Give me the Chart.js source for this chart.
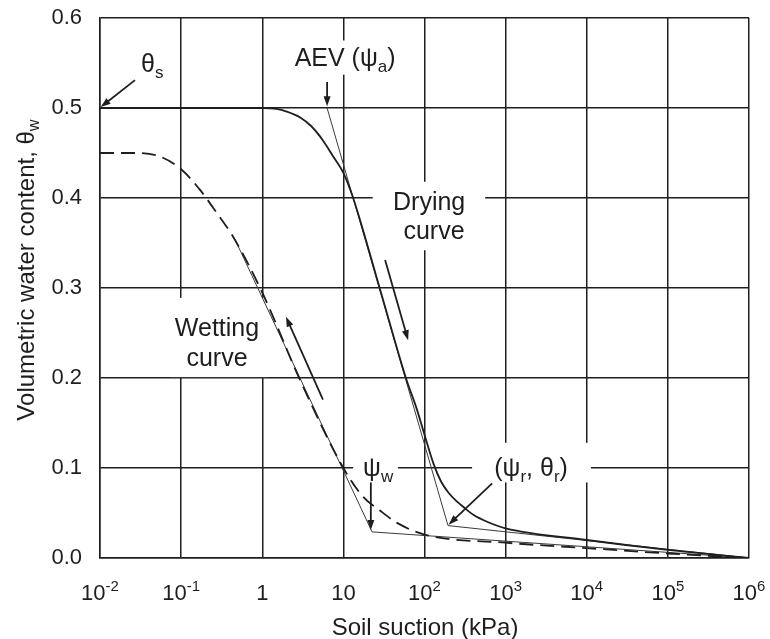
<!DOCTYPE html>
<html>
<head>
<meta charset="utf-8">
<title>Soil-water characteristic curves</title>
<script src="https://cdn.jsdelivr.net/npm/chart.js@4.4.1/dist/chart.umd.min.js"></script>
<style>
  body { margin: 0; background: #fff; }
  canvas { display: block; }
</style>
</head>
<body>
<canvas id="swcc" width="770" height="639"></canvas>
<script>
// soil suction (kPa) and volumetric water content
const dryingSuction = [0.01, 0.1, 1, 1.5, 2, 3, 4, 5.6, 7.5, 10, 13.2, 28, 59, 80, 100, 130, 160, 200, 250, 300, 400, 600, 1000, 10000, 100000, 1000000];
const dryingTheta   = [0.5, 0.5, 0.5, 0.499, 0.496, 0.489, 0.48, 0.464, 0.446, 0.428, 0.4, 0.3, 0.2, 0.166, 0.137, 0.104, 0.085, 0.072, 0.063, 0.057, 0.048, 0.04, 0.033, 0.02, 0.009, 0];

const wettingSuction = [0.01, 0.03, 0.055, 0.1, 0.171, 0.277, 0.437, 1, 2.92, 10, 17.5, 28, 46, 100, 1000, 10000, 100000, 1000000];
const wettingTheta   = [0.45, 0.45, 0.446, 0.432, 0.409, 0.383, 0.357, 0.295, 0.198, 0.1, 0.068, 0.053, 0.039, 0.026, 0.017, 0.011, 0.005, 0];

// construction lines: AEV -> (psi_r, theta_r) -> 1e6 kPa, and wetting tangent -> psi_w -> 1e6 kPa
const dryingTangentSuction = [6.3, 195, 1000000];
const dryingTangentTheta   = [0.5, 0.036, 0];
const wettingTangentSuction = [0.45, 22.6, 1000000];
const wettingTangentTheta   = [0.356, 0.029, 0];

const xTickValues = [0.01, 0.1, 1, 10, 100, 1000, 10000, 100000, 1000000];
const xTickBase   = ['10', '10', '1', '10', '10', '10', '10', '10', '10'];
const xTickPower  = ['-2', '-1', '', '', '2', '3', '4', '5', '6'];

const ink = '#1e1e1e';
const FONT = '"Liberation Sans", Arial, Helvetica, sans-serif';

// text notes placed in data units (suction, theta)
const notes = [
  { lines: [{ parts: [['θ', ''], ['s', 'sub']], at: [0.044, 0.55] }],
    arrow: [[0.027, 0.531], [0.0102, 0.501]] },
  { lines: [{ parts: [['AEV (ψ', ''], ['a', 'sub'], [')', '']], at: [10.5, 0.557] }],
    box: [[2.2, 50], [0.537, 0.575]],
    arrow: [[6.3, 0.529], [6.3, 0.502]] },
  { lines: [{ parts: [['Drying', '']], at: [114, 0.397] }, { parts: [['curve', '']], at: [131, 0.364] }],
    box: [[23, 560], [0.342, 0.418]],
    arrow: [[32.7, 0.331], [62.8, 0.242]] },
  { lines: [{ parts: [['Wetting', '']], at: [0.277, 0.257] }, { parts: [['curve', '']], at: [0.277, 0.223] }],
    box: [[0.073, 1.18], [0.201, 0.289]],
    arrow: [[5.6, 0.176], [1.96, 0.268]] },
  { lines: [{ parts: [['ψ', ''], ['w', 'sub']], at: [26.8, 0.101] }],
    box: [[13.2, 47], [0.084, 0.118]],
    arrow: [[21.8, 0.084], [21.8, 0.031]] },
  { lines: [{ parts: [['(ψ', ''], ['r', 'sub'], [', θ', ''], ['r', 'sub'], [')', '']], at: [2060, 0.101] }],
    box: [[386, 11300], [0.084, 0.128]],
    arrow: [[682, 0.083], [198, 0.037]] }
];

function pairs(xs, ys) {
  return xs.map((x, i) => ({ x: x, y: ys[i] }));
}

function drawRich(ctx, parts, x, y, size, align) {
  let w = 0;
  parts.forEach(([t, m]) => {
    ctx.font = (m ? size * 0.68 : size) + 'px ' + FONT;
    w += ctx.measureText(t).width;
  });
  let cx = align === 'right' ? x - w : (align === 'left' ? x : x - w / 2);
  const base = y + size * 0.36;
  ctx.textAlign = 'left';
  ctx.textBaseline = 'alphabetic';
  parts.forEach(([t, m]) => {
    const s = m ? size * 0.68 : size;
    ctx.font = s + 'px ' + FONT;
    const dy = m === 'sub' ? size * 0.24 : (m === 'sup' ? -size * 0.42 : 0);
    ctx.fillText(t, cx, base + dy);
    cx += ctx.measureText(t).width;
  });
}

function drawArrow(ctx, x1, y1, x2, y2) {
  const a = Math.atan2(y2 - y1, x2 - x1);
  const len = 10, hw = 3.5;
  const c = Math.cos(a), s = Math.sin(a);
  ctx.beginPath();
  ctx.moveTo(x1, y1);
  ctx.lineTo(x2 - c * len * 0.7, y2 - s * len * 0.7);
  ctx.stroke();
  ctx.beginPath();
  ctx.moveTo(x2, y2);
  ctx.lineTo(x2 - len * c + hw * s, y2 - len * s - hw * c);
  ctx.lineTo(x2 - len * c - hw * s, y2 - len * s + hw * c);
  ctx.closePath();
  ctx.fill();
}

const notesPlugin = {
  id: 'notes',
  beforeDatasetsDraw(chart) {
    const { ctx, scales: { x, y } } = chart;
    ctx.save();
    ctx.fillStyle = '#fff';
    notes.forEach(n => {
      if (!n.box) return;
      const x0 = x.getPixelForValue(n.box[0][0]), x1 = x.getPixelForValue(n.box[0][1]);
      const y0 = y.getPixelForValue(n.box[1][1]), y1 = y.getPixelForValue(n.box[1][0]);
      ctx.fillRect(x0, y0, x1 - x0, y1 - y0);
    });
    ctx.restore();
  },
  afterDatasetsDraw(chart) {
    const { ctx, scales: { x, y } } = chart;
    ctx.save();
    ctx.fillStyle = ink;
    ctx.strokeStyle = ink;
    ctx.lineWidth = 1.8;
    notes.forEach(n => {
      n.lines.forEach(l => {
        drawRich(ctx, l.parts, x.getPixelForValue(l.at[0]), y.getPixelForValue(l.at[1]), 25, 'center');
      });
      if (n.arrow) {
        const [p, q] = n.arrow;
        drawArrow(ctx, x.getPixelForValue(p[0]), y.getPixelForValue(p[1]),
                       x.getPixelForValue(q[0]), y.getPixelForValue(q[1]));
      }
    });
    ctx.restore();
  },
  afterDraw(chart) {
    const { ctx, chartArea, scales: { x } } = chart;
    ctx.save();
    ctx.fillStyle = ink;
    xTickValues.forEach((v, i) => {
      const parts = [[xTickBase[i], '']];
      if (xTickPower[i]) parts.push([xTickPower[i], 'sup']);
      drawRich(ctx, parts, x.getPixelForValue(v), chartArea.bottom + 34, 22, 'center');
    });
    drawRich(ctx, [['Soil suction (kPa)', '']], 425, 626, 24, 'center');
    ctx.translate(25, 270);
    ctx.rotate(-Math.PI / 2);
    drawRich(ctx, [['Volumetric water content, θ', ''], ['w', 'sub']], 0, 0, 24, 'center');
    ctx.restore();
  }
};

const lineStyle = { pointRadius: 0, borderColor: ink, fill: false };

new Chart(document.getElementById('swcc'), {
  type: 'line',
  data: {
    datasets: [
      { ...lineStyle, label: 'Drying curve', data: pairs(dryingSuction, dryingTheta),
        borderWidth: 1.8, cubicInterpolationMode: 'monotone' },
      { ...lineStyle, label: 'Wetting curve', data: pairs(wettingSuction, wettingTheta),
        borderWidth: 1.8, borderDash: [14, 7], cubicInterpolationMode: 'monotone' },
      { ...lineStyle, label: 'Drying construction', data: pairs(dryingTangentSuction, dryingTangentTheta),
        borderWidth: 1, borderColor: '#3a3a3a', tension: 0 },
      { ...lineStyle, label: 'Wetting construction', data: pairs(wettingTangentSuction, wettingTangentTheta),
        borderWidth: 1, borderColor: '#3a3a3a', tension: 0 }
    ]
  },
  options: {
    responsive: false,
    animation: false,
    devicePixelRatio: 1,
    layout: { padding: { top: 18, right: 21, left: 0, bottom: 0 } },
    plugins: { legend: { display: false }, tooltip: { enabled: false } },
    scales: {
      x: {
        type: 'logarithmic',
        min: 0.01,
        max: 1000000,
        afterBuildTicks: s => { s.ticks = xTickValues.map(v => ({ value: v })); },
        afterFit: s => { s.height = 81; s.paddingLeft = 0; s.paddingRight = 0; },
        ticks: { display: false },
        grid: { color: ink, lineWidth: 1.5, drawTicks: false },
        border: { color: ink, width: 1.5 }
      },
      y: {
        min: 0,
        max: 0.6,
        afterFit: s => { s.width = 100; s.paddingTop = 0; s.paddingBottom = 0; },
        ticks: {
          stepSize: 0.1,
          padding: 18,
          color: ink,
          font: { family: FONT, size: 22 },
          callback: v => v.toFixed(1)
        },
        grid: { color: ink, lineWidth: 1.5, drawTicks: false },
        border: { color: ink, width: 1.5 }
      }
    }
  },
  plugins: [notesPlugin]
});
</script>
</body>
</html>
